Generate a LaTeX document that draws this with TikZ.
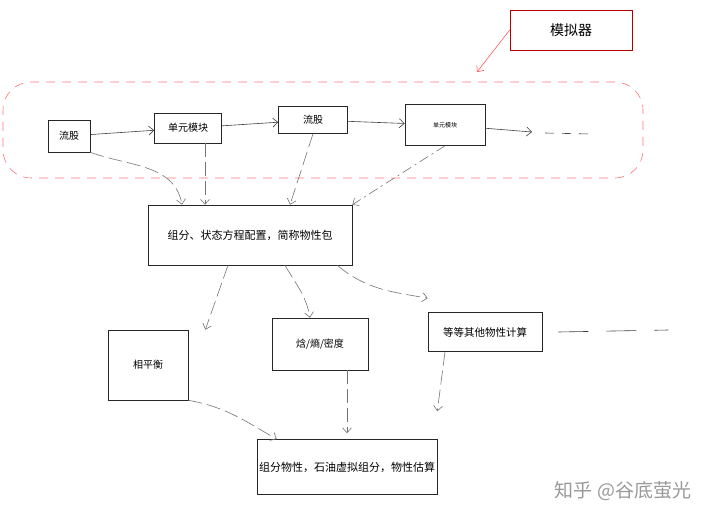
\documentclass[tikz,border=0pt]{standalone}
\usepackage{fontspec}
\newfontfamily\cjk{Noto Sans CJK SC}
\usetikzlibrary{positioning,arrows.meta,calc}

\begin{document}
\begin{tikzpicture}[x=1pt, y=-1pt,
    box/.style={draw=black!85, line width=0.6pt, rectangle, align=center, inner sep=2pt, font=\cjk\fontsize{11}{13}\selectfont},
    flowbox/.style={box, font=\cjk\fontsize{10}{12}\selectfont},
    simbox/.style={box, draw=red!70!black, font=\cjk\fontsize{14}{16}\selectfont},
    groupbox/.style={draw=red!55, dash pattern=on 9pt off 7pt, line width=0.6pt, rounded corners=28pt},
    arr/.style={-{Straight Barb[length=5pt,width=9pt]}, line width=0.6pt, draw=black!75},
    link/.style={arr, draw=black!55, dash pattern=on 14pt off 5pt},
    simarr/.style={arr, draw=red!65},
]
\useasboundingbox (0,0) rectangle (720,519);

% Simulator
\node[simbox, minimum width=122pt, minimum height=40pt] (sim) at (571,30) {模拟器};
\node[groupbox, minimum width=640pt, minimum height=96pt] (sys) at (323,130) {};
\coordinate (simtip) at (477,72);

% Flowsheet row
\node[flowbox, minimum width=42pt, minimum height=32pt] (streamA) at (69,136) {流股};
\node[flowbox, minimum width=67pt, minimum height=30pt] (unitA) at (188,128) {单元模块};
\node[flowbox, minimum width=69pt, minimum height=27pt] (streamB) at (313,120) {流股};
\node[flowbox, minimum width=80pt, minimum height=41pt, font=\cjk\fontsize{6}{7}\selectfont] (unitB) at (445,125) {单元模块};
\coordinate (more) at (532,132);
\coordinate (moreend) at (590,134);

% Property package
\node[box, minimum width=204pt, minimum height=60pt] (pkg) at (250,235) {组分、状态方程配置，简称物性包};

% Calculations
\node[flowbox, minimum width=80pt, minimum height=70pt] (vle) at (148,365) {相平衡};
\node[flowbox, minimum width=96pt, minimum height=52pt] (hsd) at (320,344) {焓/熵/密度};
\node[box, minimum width=114pt, minimum height=39pt, font=\cjk\fontsize{10.5}{12}\selectfont] (other) at (485,332) {等等其他物性计算};

% Component properties
\node[box, minimum width=170pt, minimum height=55pt] (props) at (347,467) {组分物性，石油虚拟组分，物性估算};

\node[font=\cjk\fontsize{19}{22}\selectfont, text=black!40] (mark) at (623,491) {知乎 @谷底萤光};

% Arrows
\draw[simarr] (sim.west) -- (simtip);
\draw[arr] (streamA) -- (unitA);
\draw[arr] (unitA) -- (streamB);
\draw[arr] (streamB) -- (unitB);
\draw[arr] (unitB) -- (more);
\draw[draw=black!75, line width=0.6pt, dash pattern=on 9pt off 8pt] (more) ++(13,1) -- (moreend);
\draw[link] (streamA.south east) to[out=-20,in=100] ([xshift=-68pt]pkg.north);
\draw[link] ([xshift=17pt]unitA.south) -- ([xshift=17pt]unitA.south |- pkg.north);
\draw[link] (streamB.south) -- ([xshift=40pt]pkg.north);
\draw[link, dash pattern=on 10pt off 4pt on 2pt off 4pt] (unitB.south) -- (pkg.north east);
\draw[link] ([xshift=-22pt]pkg.south) -- ([xshift=17pt]vle.north east);
\draw[link] ([xshift=35pt]pkg.south) to[out=-60,in=100] ([xshift=-10pt]hsd.north);
\draw[link] ([xshift=-15pt]pkg.south east) to[out=-40,in=170] ([yshift=14pt]other.north west);
\draw[link] (vle.south east) to[out=-10,in=150] ([xshift=20pt]props.north west);
\draw[link] ([xshift=27pt]hsd.south) -- ([xshift=27pt,yshift=6pt]hsd.south |- props.north);
\draw[link] ([xshift=-40pt]other.south) -- ([yshift=28pt]props.north east);
\draw[draw=black!75, line width=0.6pt, dash pattern=on 30pt off 18pt] ([xshift=16pt]other.east) -- ++(110,-2);
\end{tikzpicture}
\end{document}
